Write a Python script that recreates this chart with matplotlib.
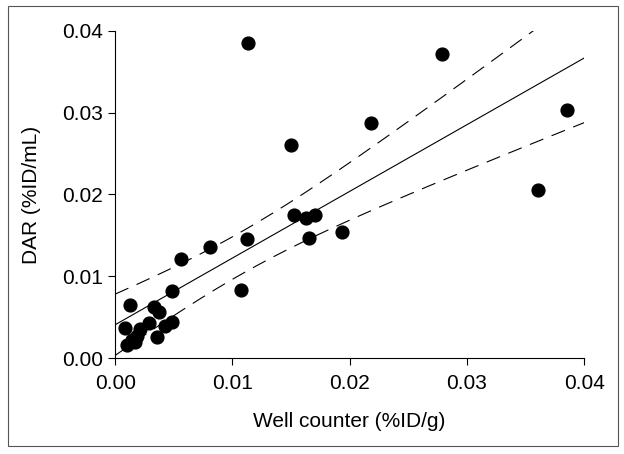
import matplotlib
matplotlib.use('Agg')
import matplotlib.pyplot as plt
import numpy as np
from matplotlib.patches import Rectangle

plt.rcParams['font.family'] = ['Liberation Sans', 'DejaVu Sans']

# well counter (%ID/g) vs DAR (%ID/mL)
well = [0.01137, 0.02788, 0.03857, 0.02181, 0.01502, 0.03611, 0.01526, 0.01631,
        0.01706, 0.01939, 0.01655, 0.01123, 0.00809, 0.00560, 0.00485, 0.01075,
        0.00129, 0.00329, 0.00371, 0.00081, 0.00291, 0.00214, 0.00427, 0.00485,
        0.00357, 0.00186, 0.00172, 0.00101, 0.00143]
dar = [0.03853, 0.03711, 0.03032, 0.02877, 0.02600, 0.02055, 0.01750, 0.01717,
       0.01754, 0.01546, 0.01465, 0.01461, 0.01363, 0.01209, 0.00826, 0.00838,
       0.00651, 0.00630, 0.00569, 0.00365, 0.00427, 0.00354, 0.00394, 0.00440,
       0.00264, 0.00272, 0.00203, 0.00162, 0.00223]

x = np.array(well)
y = np.array(dar)
n = len(x)

# linear fit + 95% confidence band of the mean
slope, icpt = np.polyfit(x, y, 1)
resid = y - (slope * x + icpt)
s = np.sqrt(np.sum(resid ** 2) / (n - 2))
t = 2.05
xx = np.linspace(0, 0.04, 200)
yy = slope * xx + icpt
half = t * s * np.sqrt(1 / n + (xx - x.mean()) ** 2 / np.sum((x - x.mean()) ** 2))

fig = plt.figure(figsize=(6.24, 4.54), dpi=100)
ax = fig.add_axes([0.1846, 0.2108, 0.936 - 0.1846, 0.9324 - 0.2108])

ax.plot(xx, yy, color='black', lw=0.8)
ax.plot(xx, yy + half, color='black', lw=0.8, dashes=(13, 8))
ax.plot(xx, yy - half, color='black', lw=0.8, dashes=(13, 8))
ax.scatter(x, y, s=85, color='black', zorder=3, clip_on=False)

ax.set_xlim(0, 0.04)
ax.set_ylim(0, 0.04)
ax.set_xticks([0, 0.01, 0.02, 0.03, 0.04])
ax.set_yticks([0, 0.01, 0.02, 0.03, 0.04])
ax.set_xticklabels(['0.00', '0.01', '0.02', '0.03', '0.04'])
ax.set_yticklabels(['0.00', '0.01', '0.02', '0.03', '0.04'])
ax.tick_params(direction='out', length=5, width=0.8, labelsize=15, pad=4)
ax.tick_params(axis='x', pad=6)
for side in ['top', 'right']:
    ax.spines[side].set_visible(False)
for side in ['left', 'bottom']:
    ax.spines[side].set_linewidth(0.8)

ax.set_xlabel('Well counter (%ID/g)', fontsize=15, labelpad=14)
ax.set_ylabel('DAR (%ID/mL)', fontsize=15, labelpad=15)

fig.patches.append(Rectangle((8 / 624, 1 - 446 / 454), 610 / 624, 440 / 454,
                             transform=fig.transFigure, fill=False,
                             edgecolor='#555555', lw=0.8))

fig.savefig('out.png', dpi=100)
